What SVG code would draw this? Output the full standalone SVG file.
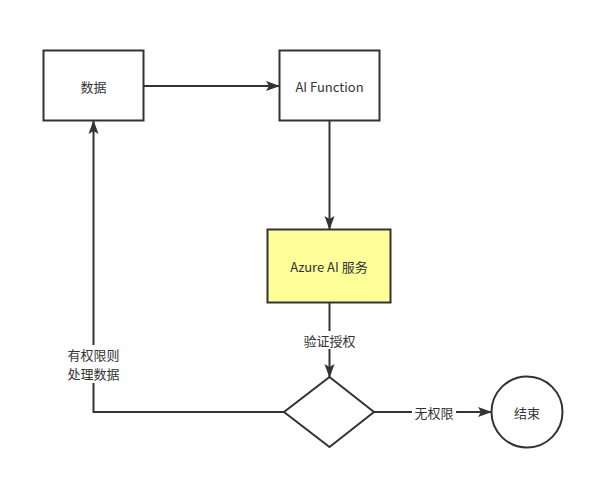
<svg xmlns="http://www.w3.org/2000/svg" width="608" height="496" viewBox="0 0 608 496">
<defs>
<marker id="arr" markerWidth="14" markerHeight="12" refX="13" refY="6" orient="auto" markerUnits="userSpaceOnUse"><path d="M0,1 L14,6 L0,11 L3,6 Z" fill="#333"/></marker>
<style>
.n{fill:#fff;stroke:#333;stroke-width:2}
.c{fill:none;stroke:#333;stroke-width:2;marker-end:url(#arr)}
.t{font-family:"Noto Sans CJK SC","Noto Sans",sans-serif;font-size:13px;fill:#333;text-anchor:middle;dominant-baseline:central}
.lb{fill:#fff}
</style>
</defs>
<rect width="608" height="496" fill="#fff"/>
<g id="connectors">
<path class="c" d="M143.5,86 L279,86"/>
<path class="c" d="M329.5,120.5 L329.5,229"/>
<path class="c" d="M329.5,302.5 L329.5,377"/>
<path class="c" d="M373.5,412 L491,412"/>
<path class="c" d="M284,412 L93.5,412 L93.5,121"/>
<rect class="lb" x="302" y="331" width="55" height="18"/>
<text class="t" x="329.5" y="340">验证授权</text>
<rect class="lb" x="412" y="403" width="44" height="18"/>
<text class="t" x="434" y="412">无权限</text>
<rect class="lb" x="62" y="345" width="63" height="38"/>
<text class="t" x="93.5" y="354">有权限则</text>
<text class="t" x="93.5" y="373">处理数据</text>
</g>
<g id="data"><rect class="n" x="43.5" y="50.5" width="100" height="70"/><text class="t" x="93.5" y="86">数据</text></g>
<g id="aifunction"><rect class="n" x="279.5" y="50.5" width="100" height="70"/><text class="t" x="329.5" y="86">AI Function</text></g>
<g id="azure"><rect x="267.5" y="229.5" width="123" height="73" fill="#ffff99" stroke="#333" stroke-width="2"/><text class="t" x="329" y="266">Azure AI 服务</text></g>
<g id="decision"><path class="n" d="M329.5,377 L374,412 L329.5,447 L284,412 Z"/></g>
<g id="end"><circle class="n" cx="527" cy="412" r="35.5"/><text class="t" x="527" y="412">结束</text></g>
</svg>
